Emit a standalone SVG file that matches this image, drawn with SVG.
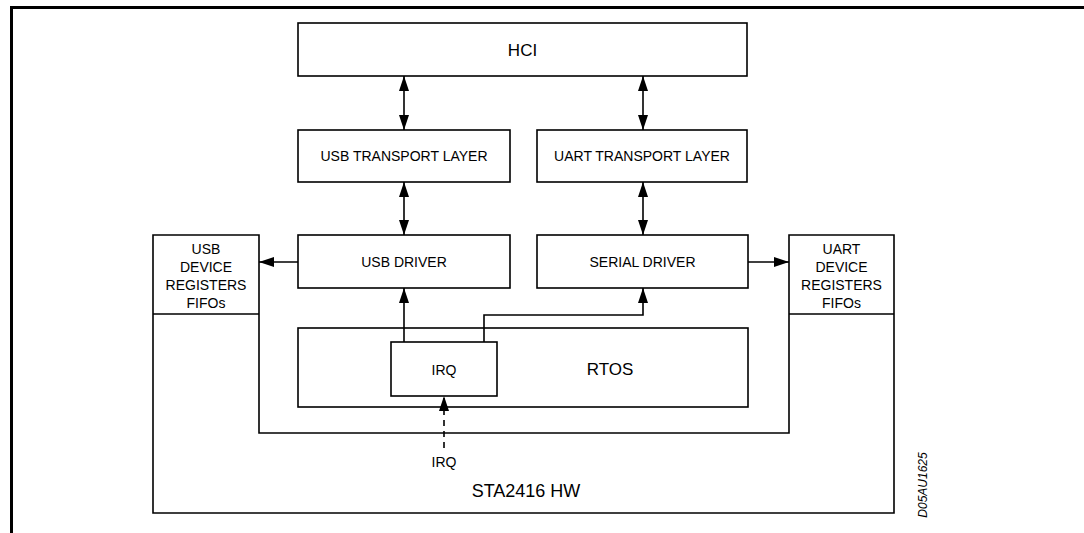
<svg xmlns="http://www.w3.org/2000/svg" width="1084" height="533" viewBox="0 0 1084 533">
<style>
.box{fill:none;stroke:#000;stroke-width:1.6}
.frame{fill:none;stroke:#000;stroke-width:3}
.ln{fill:none;stroke:#000;stroke-width:1.6}
.t{font-family:"Liberation Sans",Arial,sans-serif;fill:#000;text-anchor:middle}
.s14{font-size:14px}
.s17{font-size:17px}
.s18{font-size:18px}
</style>
<defs>
<marker id="ah" viewBox="0 0 15 10" refX="15" refY="5" markerWidth="15" markerHeight="10" markerUnits="userSpaceOnUse" orient="auto-start-reverse">
<path d="M0,0 L15,5 L0,10 z" fill="#000"/>
</marker>
</defs>
<rect width="1084" height="533" fill="#fff"/>
<path class="frame" d="M11.5,533 V7.5 H1084"/>

<g id="hci"><rect class="box" x="298" y="23" width="449" height="53"/><text class="t s17" x="522.5" y="56">HCI</text></g>
<g id="usb-transport"><rect class="box" x="298" y="130" width="212" height="52"/><text class="t s14" x="404" y="161">USB TRANSPORT LAYER</text></g>
<g id="uart-transport"><rect class="box" x="537" y="130" width="210" height="52"/><text class="t s14" x="642" y="161">UART TRANSPORT LAYER</text></g>
<g id="usb-driver"><rect class="box" x="298" y="235" width="212" height="53"/><text class="t s14" x="404" y="267">USB DRIVER</text></g>
<g id="serial-driver"><rect class="box" x="537" y="235" width="211" height="53"/><text class="t s14" x="642.5" y="267">SERIAL DRIVER</text></g>
<g id="sta2416-hw">
<path class="box" d="M153,235 H259 V433 H789 V235 H894 V513 H153 Z"/>
<path class="ln" d="M153,314 H259 M789,314 H894"/>
<text class="t s18" x="526" y="497">STA2416 HW</text>
</g>
<g id="usb-device"><text class="t s14"><tspan x="206" y="254">USB</tspan><tspan x="206" y="272">DEVICE</tspan><tspan x="206" y="290">REGISTERS</tspan><tspan x="206" y="308">FIFOs</tspan></text></g>
<g id="uart-device"><text class="t s14"><tspan x="841.5" y="254">UART</tspan><tspan x="841.5" y="272">DEVICE</tspan><tspan x="841.5" y="290">REGISTERS</tspan><tspan x="841.5" y="308">FIFOs</tspan></text></g>
<g id="rtos"><rect class="box" x="298" y="328" width="450" height="79"/><text class="t s17" x="610" y="375">RTOS</text></g>
<g id="irq-box"><rect class="box" x="391" y="342" width="106" height="54"/><text class="t s14" x="444" y="375">IRQ</text></g>
<g id="irq-in"><text class="t s14" x="444" y="467">IRQ</text></g>

<g id="connectors">
<line class="ln" x1="404" y1="76" x2="404" y2="130" marker-start="url(#ah)" marker-end="url(#ah)"/>
<line class="ln" x1="643" y1="76" x2="643" y2="130" marker-start="url(#ah)" marker-end="url(#ah)"/>
<line class="ln" x1="404" y1="182" x2="404" y2="235" marker-start="url(#ah)" marker-end="url(#ah)"/>
<line class="ln" x1="643" y1="182" x2="643" y2="235" marker-start="url(#ah)" marker-end="url(#ah)"/>
<line class="ln" x1="298" y1="262" x2="259" y2="262" marker-end="url(#ah)"/>
<line class="ln" x1="748" y1="262" x2="789" y2="262" marker-end="url(#ah)"/>
<line class="ln" x1="404" y1="342" x2="404" y2="288" marker-end="url(#ah)"/>
<polyline class="ln" points="484,342 484,315 643,315 643,288" marker-end="url(#ah)"/>
<line class="ln" x1="444" y1="448" x2="444" y2="396" stroke-dasharray="6,5" stroke-width="2" marker-end="url(#ah)"/>
</g>
<text font-family="'Liberation Sans',Arial,sans-serif" font-style="italic" font-size="12" text-anchor="middle" transform="translate(927,485) rotate(-90)">D05AU1625</text>
</svg>
